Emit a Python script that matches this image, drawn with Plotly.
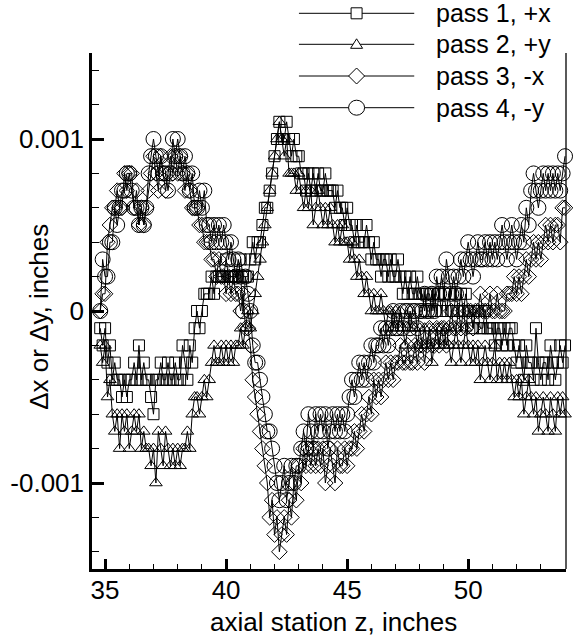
import plotly.graph_objects as go

# Axial stations along the bore, inches (0.1 in sampling pitch)
Z_START, Z_STEP, N_STATIONS = 34.8, 0.1, 193
z = [round(Z_START + Z_STEP * i, 1) for i in range(N_STATIONS)]

# Measured deflections in ten-thousandths of an inch, one value per station
pass1_px = [
    -1, -2, -1, -3, -2, -4, -3, -4, -4, -5,
    -4, -5, -4, -4, -3, -4, -2, -4, -3, -4,
    -4, -5, -6, -4, -4, -3, -4, -4, -3, -4,
    -4, -3, -4, -4, -2, -3, -4, -2, -3, -1,
    0, -1, 0, 1, 1, 1, 2, 1, 2, 2,
    2, 2, 3, 2, 2, 2, 2, 2, 3, 2,
    2, 2, 3, 4, 3, 4, 4, 5, 6, 6,
    7, 8, 9, 10, 11, 10, 10, 11, 10, 9,
    10, 9, 9, 8, 8, 7, 8, 7, 8, 7,
    8, 7, 7, 8, 7, 7, 7, 6, 7, 6,
    6, 5, 6, 5, 5, 4, 5, 4, 4, 4,
    5, 4, 3, 4, 3, 3, 2, 3, 3, 2,
    3, 2, 2, 3, 2, 1, 2, 1, 2, 1,
    1, 2, 1, 1, 0, 1, 1, 0, 1, 0,
    1, 0, 1, 0, 1, 0, 0, 1, 0, 1,
    0, 1, 0, 0, -1, 0, 0, -1, -1, 0,
    -1, -1, -1, -2, -1, -1, -2, -1, -2, -1,
    -1, -2, -3, -2, -3, -4, -2, -3, -3, -4,
    -1, -3, -4, -3, -3, -4, -2, -3, -4, -3,
    -2, -3, -2,
]
pass2_py = [
    -2, -3, -2, -5, -4, -6, -7, -6, -8, -6,
    -7, -6, -8, -7, -6, -7, -6, -8, -7, -8,
    -8, -9, -8, -10, -7, -8, -9, -7, -8, -9,
    -8, -9, -8, -9, -8, -8, -7, -8, -6, -5,
    -5, -6, -5, -4, -5, -4, -3, -2, -3, -3,
    -2, -3, -2, -3, -2, -3, -2, -2, -1, -2,
    -1, 0, -1, 0, 1, 2, 3, 4, 5, 6,
    7, 8, 9, 10, 11, 10, 9, 10, 8, 8,
    8, 7, 8, 7, 6, 7, 6, 7, 5, 6,
    7, 6, 5, 6, 5, 6, 5, 4, 5, 4,
    5, 4, 4, 3, 4, 3, 2, 3, 2, 1,
    2, 1, 0, 1, 0, 0, 1, 0, -1, 0,
    0, -1, 0, -1, 0, -1, -2, -1, 0, -1,
    -1, -2, -1, -2, -1, -2, -1, -3, -2, -1,
    -2, -1, -2, -1, -2, -3, -2, -1, -2, -3,
    -2, -1, -2, -3, -2, -3, -2, -4, -3, -2,
    -3, -4, -3, -2, -4, -3, -4, -3, -4, -3,
    -4, -5, -4, -5, -4, -6, -5, -4, -5, -6,
    -5, -7, -6, -5, -6, -7, -5, -6, -7, -5,
    -6, -5, -6,
]
pass3_mx = [
    0, 1, 1, 4, 5, 6, 6, 7, 6, 6,
    8, 7, 8, 8, 6, 7, 5, 6, 5, 6,
    7, 8, 9, 8, 7, 9, 8, 7, 8, 9,
    8, 9, 8, 9, 8, 7, 8, 7, 6, 6,
    6, 5, 5, 4, 4, 4, 3, 3, 2, 3,
    2, 2, 1, 2, 1, 2, 1, 1, 0, 1,
    -1, -1, -2, -4, -5, -6, -7, -8, -9, -10,
    -12, -11, -13, -12, -14, -13, -12, -13, -11, -12,
    -10, -11, -9, -10, -8, -9, -8, -9, -8, -9,
    -8, -9, -8, -10, -9, -8, -9, -10, -8, -9,
    -9, -8, -9, -8, -8, -7, -8, -7, -6, -7,
    -6, -5, -6, -4, -5, -4, -5, -4, -3, -4,
    -3, -4, -3, -3, -2, -3, -3, -2, -3, -3,
    -2, -3, -2, -2, -3, -2, -1, -2, -2, -1,
    -2, -1, -1, -2, -1, 0, -1, -1, 0, -1,
    0, -1, 0, 0, -1, 0, 0, 1, 0, 0,
    0, 1, 0, 0, 1, 0, 0, 0, 1, 1,
    1, 2, 1, 2, 1, 2, 3, 2, 3, 4,
    3, 4, 3, 4, 5, 4, 5, 4, 5, 5,
    4, 6, 6,
]
pass4_my = [
    0, 3, 2, 2, 4, 4, 6, 5, 6, 7,
    7, 8, 8, 7, 6, 6, 5, 6, 5, 6,
    8, 9, 10, 9, 8, 9, 8, 8, 7, 8,
    10, 9, 10, 9, 8, 9, 8, 7, 8, 6,
    6, 7, 6, 7, 5, 5, 4, 5, 4, 5,
    4, 5, 4, 3, 4, 3, 2, 3, 2, 0,
    2, 1, 0, -2, -3, -3, -4, -5, -6, -7,
    -7, -8, -9, -10, -11, -10, -9, -11, -10, -9,
    -10, -9, -9, -8, -7, -8, -6, -7, -8, -6,
    -7, -6, -7, -6, -8, -7, -6, -7, -6, -7,
    -6, -7, -6, -5, -4, -5, -4, -3, -4, -3,
    -4, -3, -2, -3, -2, -2, -1, -2, -1, -2,
    -1, 0, -1, -1, 0, -1, 0, 0, -1, 0,
    0, -1, 0, 0, 1, 0, 0, 1, 0, 2,
    1, 2, 1, 3, 2, 1, 2, 1, 2, 3,
    2, 3, 4, 3, 2, 3, 4, 3, 3, 4,
    3, 4, 3, 4, 3, 4, 5, 4, 3, 4,
    5, 4, 3, 4, 5, 4, 6, 5, 7, 8,
    7, 6, 7, 8, 7, 8, 7, 8, 7, 8,
    7, 8, 9,
]

series_names = ["pass 1, +x", "pass 2, +y", "pass 3, -x", "pass 4, -y"]
series_vals = [pass1_px, pass2_py, pass3_mx, pass4_my]
for vals in series_vals:
    assert len(vals) == len(z)

x_ticks = [35, 40, 45, 50]
y_ticks = [-0.001, 0, 0.001]
y_ticklabels = ["-0.001", "0", "0.001"]

FONT = "Arial, Liberation Sans, sans-serif"
FS = 26        # tick labels and axis titles
FS_KEY = 25    # key labels
INK = "black"

# marker styles: symbol, plotly size
styles = [("square-open", 11), ("triangle-up-open", 11),
          ("diamond-open", 12), ("circle-open", 15)]

fig = go.Figure()
for name, vals, (sym, size) in zip(series_names, series_vals, styles):
    fig.add_trace(go.Scatter(
        x=z, y=[v * 1e-4 for v in vals], name=name, mode="lines+markers",
        line=dict(color=INK, width=1),
        marker=dict(symbol=sym, size=size, color=INK, line=dict(width=1, color=INK)),
        showlegend=False, cliponaxis=False,
    ))

W, H = 576, 637
ML, MR, MT, MB = 85, 10, 53, 68
PW, PH = W - ML - MR, H - MT - MB


def px_to_paper(xp, yp):
    return (xp - ML) / PW, (H - MB - yp) / PH


shapes = []
annotations = []

# right-hand frame line (no ticks)
shapes.append(dict(type="line", xref="paper", yref="paper", x0=1, x1=1, y0=0, y1=1,
                   line=dict(color=INK, width=1.3)))

# hand-drawn key: long line, glyph in the middle, label to the right
key_rows = [13.3, 44.3, 76, 107.7]
key_x0, key_x1, key_text_x = 295, 412, 432
glyph_cx = (key_x0 + key_x1) / 2
glyphs = [
    dict(type="rect", x0=-5.5, x1=5.5, y0=-5.5, y1=5.5),
    dict(type="path", path="M-6,-4 L6,-4 L0,5.5 Z"),
    dict(type="path", path="M0,8 L8,0 L0,-8 L-8,0 Z"),
    dict(type="circle", x0=-8, x1=8, y0=-7.5, y1=7.5),
]
for row_y, name, g in zip(key_rows, series_names, glyphs):
    lx0, ly = px_to_paper(key_x0, row_y)
    lx1, _ = px_to_paper(key_x1, row_y)
    cx, _ = px_to_paper(glyph_cx, row_y)
    tx, _ = px_to_paper(key_text_x, row_y)
    shapes.append(dict(type="line", xref="paper", yref="paper", x0=lx0, x1=lx1,
                       y0=ly, y1=ly, line=dict(color=INK, width=1)))
    gs = dict(g)
    gs.update(xref="paper", yref="paper", xsizemode="pixel", ysizemode="pixel",
              xanchor=cx, yanchor=ly, fillcolor="white",
              line=dict(color=INK, width=1))
    shapes.append(gs)
    annotations.append(dict(text=name, xref="paper", yref="paper", x=tx, y=ly,
                            xanchor="left", yanchor="middle", showarrow=False,
                            font=dict(family=FONT, size=FS_KEY, color=INK)))

# axis titles
tx, ty = px_to_paper(31, 317)
annotations.append(dict(text="\u0394x or \u0394y, inches", xref="paper", yref="paper",
                        x=tx, y=ty, textangle=-90, showarrow=False,
                        xanchor="center", yanchor="middle",
                        font=dict(family=FONT, size=FS, color=INK)))
tx, ty = px_to_paper(330, 622)
annotations.append(dict(text="axial station z, inches", xref="paper", yref="paper",
                        x=tx, y=ty, showarrow=False, xanchor="center", yanchor="middle",
                        font=dict(family=FONT, size=FS, color=INK)))

fig.update_layout(
    width=W, height=H,
    margin=dict(l=ML, r=MR, t=MT, b=MB, pad=0),
    paper_bgcolor="white", plot_bgcolor="white",
    font=dict(family=FONT, size=FS, color=INK),
    shapes=shapes, annotations=annotations,
    showlegend=False,
)
fig.update_xaxes(
    range=[34.46, 54.04], tickvals=x_ticks, ticks="inside", ticklen=10,
    tickwidth=2.5, tickcolor=INK, showline=True, linewidth=2.5, linecolor=INK,
    showgrid=False, zeroline=False, ticklabelstandoff=-4,
    minor=dict(dtick=1, tick0=0, ticks="inside", ticklen=5, tickwidth=1.3, tickcolor=INK),
)
fig.update_yaxes(
    range=[-0.0015, 0.0015], tickvals=y_ticks, ticktext=y_ticklabels,
    ticks="inside", ticklen=12, tickwidth=2.5, tickcolor=INK,
    showline=True, linewidth=2.5, linecolor=INK, showgrid=False, zeroline=False,
    minor=dict(dtick=0.0002, tick0=0, ticks="inside", ticklen=7, tickwidth=1.3, tickcolor=INK),
)

fig.write_html("out.html")
